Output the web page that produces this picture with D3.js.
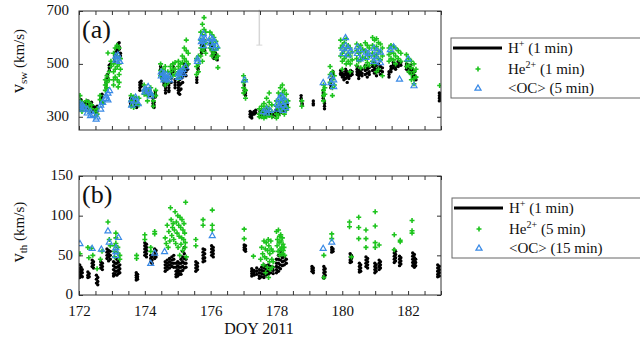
<!DOCTYPE html>
<html><head><meta charset="utf-8">
<script src="https://cdn.jsdelivr.net/npm/d3@7"></script>
<style>
html,body{margin:0;padding:0;background:#fff;}
svg text{font-family:"Liberation Serif","Times New Roman",serif !important;fill:#111;}
</style></head>
<body><svg id="chart" width="640" height="339"></svg>
<script>
// ---------- DATA (each row: [DOY, value, value, ...]) ----------
const xTicks = [172,172.5,173,173.5,174,174.5,175,175.5,176,176.5,177,177.5,178,178.5,179,179.5,180,180.5,181,181.5,182,182.5,183];
const xLabels = [172,174,176,178,180,182];
const yTicksA = [300,500,700];
const yTicksB = [0,50,100,150];

// Panel (a): solar wind speed (km/s)
const hA = [
[172.02,352,345,338,360,330],[172.06,348,340,355,365],[172.10,335,345,325,355],[172.15,340,330,350],
[172.22,345,335,355,325],[172.27,350,340,330,360],[172.32,340,330,345],[172.38,355,345,335,320],[172.43,330,322,340],
[172.50,305,315,325,335],[172.55,320,330,340],
[172.66,370,360,350,380],[172.70,365,375,355,385],
[172.82,420,430,440,410],[172.86,450,460,440],[172.92,475,485,495],[172.96,490,500],
[173.08,520,530,540,510],[173.13,545,555,560,535],[173.18,560,570,575,550],[173.22,580,565,555],[173.26,540,530],
[173.57,360,350,370,345],[173.61,375,365,355],[173.70,350,340,360],[173.75,345,335],[173.85,410,420,430,400],[173.89,425,435,415],
[174.05,395,385,405],[174.15,380,390,400],[174.25,360,350,340,370],[174.28,335,345,355],[174.32,385,375,395],
[174.48,480,470,460,490],[174.52,455,445,465,470],[174.58,440,430,450,420],[174.63,410,420,400,390],[174.68,440,450,430],
[174.73,420,410,400,395],[174.80,460,445,430,470],[174.86,480,490,470],[174.92,420,410,430,440],
[175.02,430,420,410,400,390],[175.06,450,440,420,400,385],[175.10,470,460,445,425,405],[175.15,480,465,450,430],
[175.20,500,490,475,460],[175.25,485,470,455],[175.30,495,480],
[175.58,450,440,430],[175.62,470,480,490],
[175.72,560,550,540,570],[175.77,580,570,560],[175.82,590,575,560,550],
[176.00,580,570,560],[176.05,565,555,545,535],[176.10,550,540,530,520],[176.15,540,530,520],[176.20,525,515],
[177.02,420,410,400,390],[177.06,400,390,380],
[177.20,320,310,300],[177.25,315,305,295],[177.32,320,310],[177.37,325,315],
[177.50,320,310,300],[177.58,315,305,325],[177.65,320,310,300],[177.72,330,320,310],[177.80,315,305],[177.88,310,300],
[177.98,305,315,325],[178.05,320,330,310],[178.12,335,325,315],[178.20,340,330,320],[178.28,335,325],[178.33,345,335],
[178.75,370,360,380],[178.78,350,345],
[179.12,360,350,345],
[179.42,400,390,380,370],[179.46,360,350,340,330],
[179.65,440,430,420,410],[179.72,470,460,450],
[179.95,475,465,460],[180.00,470,460,450],[180.05,460,450,440],[180.10,480,470,460,445],[180.15,470,460,450,430],
[180.20,465,455,445],[180.25,475,465,455],[180.30,470,460],
[180.45,490,480,470,460],[180.50,475,465,455,445],[180.55,485,470,460],[180.60,480,465,455],
[180.70,495,485,475,460],[180.76,490,480,465,450],[180.82,485,470,460],
[180.92,500,490,475],[180.98,505,490,480,465],[181.04,495,480,470,455],[181.10,500,485,470],[181.16,490,475,460],[181.22,485,470],
[181.42,470,460,450],[181.48,490,480,470],[181.55,505,495,485],[181.62,500,490,480],[181.70,510,500,490],[181.78,505,495],
[181.95,500,490,480],[182.02,490,480,470],[182.08,495,485,475,465],[182.14,480,470,460,450],[182.20,470,455,440],[182.24,450,440],
[182.95,390,380,370,360],[182.99,385,375,365]
];
const heA = [
[172.03,380,360,345,330],[172.09,355,340,320],[172.14,345,330],
[172.22,360,340],[172.30,355,335,320],[172.38,345,330],
[172.48,320,300],[172.55,330,310],
[172.64,380,365],[172.72,360,350],
[172.80,420,400,440],[172.85,455,430,410],[172.88,541],[172.92,470,440],[172.97,510,490],
[173.05,540,500,470,440,420],[173.10,560,520,480,450],[173.16,570,530,490,440],[173.19,413],[173.22,560,500,460,430],[173.26,520,480],
[173.58,380,360,340],[173.66,375,355,335],[173.74,370,350],[173.82,370,345],
[173.98,420,400,385],[174.08,400,380,360],[174.18,410,390],[174.26,380,360,340],[174.33,400,380],
[174.48,500,475,455],[174.55,480,460,440],[174.62,490,470,440,420],[174.70,470,450,430],[174.78,490,470,450],[174.85,500,480,455],[174.92,505,480,460],
[175.02,510,490,470,445],[175.08,500,480,455],[175.14,530,505,480],[175.20,560,520,490],[175.26,590,550,510],[175.32,540,500],
[175.57,520,490,460],[175.63,530,500,470],
[175.70,620,590,560,530],[175.75,650,610,580,550,510],[175.80,675,630,590,560],[175.85,620,580,540],
[175.98,620,590,560],[176.04,610,580,550,530],[176.10,600,570,540],[176.16,585,555,520],[176.22,560,530,486],
[177.00,455,430,410,390],[177.06,440,400,370],
[177.48,330,310,300],[177.55,340,320,300],[177.62,350,330,310,295],[177.70,370,340,320,300],[177.78,390,355,330,305],[177.86,345,320,300],
[178.00,360,340,310,295],[178.06,390,360,330,305],[178.12,410,380,350,320],[178.18,420,390,360,330],[178.24,400,370,340,310],[178.30,385,355,325],[178.35,360,335],
[178.77,360,340],
[179.43,420,400,380,360],[179.47,410,385],
[179.63,490,460,430],[179.70,470,440,410,380],[179.76,455,420],
[179.95,590,560,530],[180.00,570,540,510,480],[180.06,580,550,520],[180.12,595,560,530,500],[180.18,570,540,510],[180.24,560,530,500,470],[180.30,545,515],
[180.44,575,550,520,495],[180.50,565,540,510],[180.56,570,545,515,485],[180.62,555,525],
[180.70,580,550,520,490],[180.76,570,540,505],[180.82,560,530,495],
[180.92,600,570,540,510],[180.98,590,560,530,500],[181.04,595,565,535,470],[181.10,580,550,520,480],[181.16,575,545,515],[181.22,560,530,455],
[181.42,560,535,510],[181.48,570,545,520],[181.56,565,540,515],[181.62,560,530,500],[181.70,550,520],[181.78,540,510],
[181.95,535,510,490],[182.02,520,495,470],[182.10,510,485,460,440],[182.18,500,470,445,425],[182.24,480,450],
[182.96,418]
];
const ocA = [
[172.03,350,340],[172.10,345,330],[172.16,335],
[172.25,330,315],[172.35,320,305],[172.43,310],
[172.52,292],[172.55,300],
[172.66,345,330],[172.72,355],
[172.82,380,370],[172.88,390,365],[172.93,400],
[173.12,530,515],[173.18,535,520],[173.24,510],
[173.60,365,345],[173.72,375,360],[173.80,350],
[174.00,405,395],[174.10,415,400],[174.18,390,380],
[174.50,470,455],[174.58,465,450,440],[174.66,460,445],[174.75,455,440],
[175.02,465,450],[175.08,470,455],[175.16,480,465],[175.24,490],
[175.60,520,510],
[175.72,600,585],[175.78,615,590,570],[175.84,595],
[176.00,600,580],[176.06,595,570],[176.12,585,560],[176.18,570],
[177.03,440],
[177.60,320],[177.70,330,315],[177.80,325],
[178.02,350,330],[178.08,370,345],[178.14,380,355],[178.20,375,345,325],[178.28,360,335],
[179.42,430],
[179.66,455,430],[179.74,440,415],
[180.02,560,540],[180.10,600,570],[180.18,560,535],[180.26,550],
[180.46,565,540],[180.54,555,520],
[180.72,545,525],[180.80,540],
[180.96,560,530,510],[181.06,550,520],[181.16,545,505],
[181.46,555],[181.56,565],[181.74,443],
[182.00,520],[182.18,418]
];
const greyBar = [177.48,571,705];

// Panel (b): thermal speed (km/s)
const hB = [
[172.02,38,33,29,25,22],[172.06,35,30,27,24],[172.10,32,28,23],
[172.27,29,25,22],[172.31,27,23],
[172.40,44,40,36],[172.44,42,38,34],
[172.53,25,20,15],[172.57,22,17,13],
[172.66,42,38,34],[172.71,40,36,32],
[172.85,58,54,50,46],[172.90,56,52,48,43],[172.95,55,50,45],
[173.05,42,37,32,27,24],[173.10,40,35,30,26],[173.15,45,40,35,30,25],[173.20,42,36,31,27],[173.24,38,33,28],
[173.74,28,25,22,19],[173.78,26,23,20],
[174.00,66,62,58,54,50],[174.05,64,60,56,52,48],
[174.18,50,46,42],[174.22,48,44,40],
[174.30,58,54,50,46],[174.34,56,52,48],
[174.62,42,38,34,30],[174.68,44,40,36,32],[174.75,46,42,38,34],[174.82,48,44,40,36],[174.88,50,45,40,35],
[174.95,40,35,30,26,23],[175.00,42,37,32,28,24],[175.05,40,35,30,26],[175.10,45,40,35,30,26],[175.15,55,48,42,36,31],[175.20,60,52,46,40,34],[175.25,45,40,35],
[175.55,42,38,34,30],[175.60,40,36,32],
[175.77,58,54,50,46,42],[175.82,57,52,47,43],
[176.03,62,58,54,50],[176.08,60,56,52,48],
[177.02,63,60,57],[177.06,62,58,55],
[177.25,33,30,27,24],[177.32,31,28,25],[177.40,34,30,26],[177.48,32,28,24,21],[177.55,35,31,27,23],[177.62,38,34,30,26,22],
[177.68,37,33,29,25],[177.75,38,34,30,26],[177.82,36,32,28],[177.90,35,31,27],
[178.00,45,40,36,32,28],[178.06,50,45,40,35,30],[178.12,55,50,44,38,33],[178.18,52,47,42,37],[178.24,48,43,38],[178.30,45,40],
[179.08,36,33,30],[179.12,34,31,28],
[179.44,36,32,28,24,21],[179.48,33,29,25],
[179.68,60,57,54],[179.72,58,55],
[180.24,52,48,44,41],[180.28,50,46,42],
[180.52,40,36,32,29],[180.56,38,34,30],
[180.72,48,44,40,36],[180.77,46,42,38,34],
[180.99,40,36,32,28],[181.03,38,34,30],
[181.12,44,40,36,32],[181.16,42,38,34],
[181.58,57,53,49,45,41],[181.62,55,51,47,43],
[181.74,49,45,41,37],[181.78,47,43,39],
[182.14,53,49,45,41,37],[182.19,51,47,43,39,35],[182.23,45,41,37],
[182.90,38,34,30,26,23],[182.95,36,32,28,24]
];
const heB = [
[172.03,52],[172.27,60],[172.30,47],[172.38,59],[172.42,50],[172.55,33],[172.65,45],[172.70,55],
[172.88,92],[172.92,70],[172.95,62],[173.08,62,55,48],[173.12,78,72,65],[173.18,60,53],[173.24,50,45],
[173.75,50,46],[174.00,76,70],[174.18,55,60],[174.30,80,77],
[174.62,72],[174.65,65],[174.68,88],[174.71,60],[174.73,80],[174.76,68],[174.78,110],[174.80,95],[174.82,75],
[174.84,85],[174.86,90],[174.88,70],[174.90,82],[174.92,105],[174.94,65],[174.96,92],[174.98,78],[175.00,100],
[175.01,60],[175.03,88],[175.04,74],[175.06,50],[175.07,98],[175.09,85],[175.10,64],[175.12,72],[175.13,95],
[175.15,56],[175.16,82],[175.18,70],[175.19,90],[175.21,78],[175.22,60],[175.23,66],[175.24,117],[175.26,48],
[175.55,70,62],[175.77,95,88],[176.05,107,88,82],[177.02,83,71],
[177.30,49],[177.52,45],[177.55,60],[177.58,52],[177.60,38],[177.62,68],[177.64,48],[177.66,58],[177.67,28],
[177.69,66],[177.70,46],[177.72,35],[177.73,56],[177.75,70],[177.76,22],[177.77,62],[177.79,42],[177.80,52],
[177.81,32],[177.83,68],[177.84,58],[177.86,45],[177.87,35],[177.89,55],[177.90,42],
[178.00,80],[178.02,62],[178.03,70],[178.05,55],[178.06,82],[178.08,66],[178.09,74],[178.10,50],[178.12,58],
[178.13,76],[178.14,68],[178.16,60],[178.17,52],[178.18,72],[178.20,64],[178.21,56],[178.23,60],[178.25,50],
[179.44,50,22],[179.68,77,71],[180.22,92,86],[180.28,48],[180.50,98,85,71],[180.72,82,71,60],
[181.00,105,87,66,60],[181.12,63],[181.58,76,57],[181.76,69,67],[182.12,94,81,78]
];
const ocB = [
[172.03,65],[172.40,59],[172.68,58],[172.88,81],[172.92,67],[173.12,60,55,50],[173.20,73],
[174.18,40],[174.30,53],[174.60,55],[176.05,75],[179.42,59],[179.68,67]
];

const legendA = ["H|+| (1 min)","He|2+| (1 min)","<OC> (5 min)"];
const legendB = ["H|+| (1 min)","He|2+| (5 min)","<OC> (15 min)"];

// ---------- DRAWING ----------
const FONT = '"Liberation Serif","Times New Roman",serif';
const svg = d3.select("#chart");
const GREEN = "#1dc41d", BLUE = "#3a8ae6";
const x = d3.scaleLinear().domain([172,183]).range([79,441]);

const flat = rows => rows.flatMap(r => r.slice(1).map(v => [r[0], v]));

function panel(cfg){
  const y = d3.scaleLinear().domain(cfg.dom).range([cfg.bottom, cfg.top]);
  const g = svg.append("g");
  const cid = "clip"+cfg.id;
  svg.append("clipPath").attr("id",cid).append("rect")
    .attr("x",79).attr("y",cfg.top).attr("width",362).attr("height",cfg.bottom-cfg.top);
  const pg = g.append("g").attr("clip-path",`url(#${cid})`);

  if(cfg.grey){
    g.append("line").attr("x1",x(cfg.grey[0])).attr("x2",x(cfg.grey[0]))
      .attr("y1",y(cfg.grey[2])).attr("y2",y(cfg.grey[1]))
      .attr("stroke","#d6d6d6").attr("stroke-width",1.5);
    g.append("line").attr("x1",x(cfg.grey[0])-3).attr("x2",x(cfg.grey[0])+3)
      .attr("y1",y(cfg.grey[1])).attr("y2",y(cfg.grey[1]))
      .attr("stroke","#d6d6d6").attr("stroke-width",1);
  }

  pg.selectAll("circle.h").data(flat(cfg.h)).join("circle").attr("class","h")
    .attr("cx",d=>x(d[0])).attr("cy",d=>y(d[1])).attr("r",1.7).attr("fill","#000");
  pg.selectAll("path.he").data(flat(cfg.he)).join("path").attr("class","he")
    .attr("transform",d=>`translate(${x(d[0])},${y(d[1])})`)
    .attr("d","M-2.5,0H2.5M0,-2.5V2.5").attr("stroke",GREEN).attr("stroke-width",1.6).attr("fill","none");
  pg.selectAll("path.oc").data(flat(cfg.oc)).join("path").attr("class","oc")
    .attr("transform",d=>`translate(${x(d[0])},${y(d[1])})`)
    .attr("d","M0,-3L3,2.2H-3Z").attr("stroke",BLUE).attr("stroke-width",1.2).attr("fill","none");

  const fmtX = d => (cfg.xlabels && xLabels.includes(d)) ? d : "";
  const ax = [
    [d3.axisBottom(x).tickValues(xTicks).tickFormat(fmtX), `translate(0,${cfg.bottom})`],
    [d3.axisTop(x).tickValues(xTicks).tickFormat(""), `translate(0,${cfg.top})`],
    [d3.axisLeft(y).tickValues(cfg.yt).tickFormat(d3.format("d")), `translate(79,0)`],
    [d3.axisRight(y).tickValues(cfg.yt).tickFormat(""), `translate(441,0)`]
  ];
  ax.forEach(([a,t],i)=>{
    a.tickSizeInner(-4).tickSizeOuter(0).tickPadding(i===2?cfg.ypad:7.8);
    const ag = g.append("g").attr("transform",t).call(a);
    ag.attr("font-family",null).attr("font-size",null);
    ag.select(".domain").remove();
    ag.selectAll("line").attr("stroke","#333");
    ag.selectAll("text").style("font-family",FONT).style("font-size","15px").attr("fill","#111");
    if(i===0) ag.selectAll("text").attr("dy","0.85em");
    if(i===2) ag.selectAll("text").attr("dy","0.25em");
  });
  g.append("rect").attr("x",79).attr("y",cfg.top).attr("width",362).attr("height",cfg.bottom-cfg.top)
    .attr("fill","none").attr("stroke","#333").attr("stroke-width",1);

  g.append("text").attr("x",82).attr("y",cfg.top+27).style("font-family",FONT).style("font-size","26px").text(cfg.label);

  const yl = g.append("text").attr("transform",`translate(24,${cfg.ylc}) rotate(-90)`)
    .attr("text-anchor","middle").style("font-family",FONT).style("font-size","15px");
  yl.append("tspan").style("font-size","18px").text("v");
  yl.append("tspan").style("font-size","11px").attr("dy",3).text(cfg.sub);
  yl.append("tspan").attr("dy",-3).text(" (km/s)");

  const L = cfg.leg;
  g.append("rect").attr("x",L.x).attr("y",L.y).attr("width",200).attr("height",60)
    .attr("fill","#fff").attr("stroke","#666").attr("stroke-width",1);
  const rows = [L.y+10, L.y+31, L.y+50];
  g.append("line").attr("x1",L.x+2).attr("x2",L.x+51).attr("y1",rows[0]).attr("y2",rows[0])
    .attr("stroke","#000").attr("stroke-width",3);
  g.append("path").attr("transform",`translate(${L.x+27},${rows[1]})`)
    .attr("d","M-2.5,0H2.5M0,-2.5V2.5").attr("stroke",GREEN).attr("stroke-width",1.6);
  g.append("path").attr("transform",`translate(${L.x+27},${rows[2]})`)
    .attr("d","M0,-3L3,2.2H-3Z").attr("stroke",BLUE).attr("stroke-width",1.3).attr("fill","none");
  cfg.legText.forEach((s,i)=>{
    const t = g.append("text").attr("x",L.x+57).attr("y",rows[i]+5)
      .style("font-family",FONT).style("font-size","15px");
    s.split("|").forEach((p,j)=>{
      if(j%2===1) t.append("tspan").style("font-size","10px").attr("dy",-6).text(p);
      else t.append("tspan").attr("dy", j>0?6:0).text(p);
    });
  });
}

panel({id:"a", dom:[250,700], top:11, bottom:130, yt:yTicksA, ypad:10, xlabels:false,
  h:hA, he:heA, oc:ocA, grey:greyBar, label:"(a)", sub:"sw", ylc:61,
  leg:{x:451,y:38}, legText:legendA});
panel({id:"b", dom:[0,150], top:176, bottom:295, yt:yTicksB, ypad:6, xlabels:true,
  h:hB, he:heB, oc:ocB, grey:null, label:"(b)", sub:"th", ylc:232,
  leg:{x:452,y:198}, legText:legendB});

svg.append("text").attr("x",259).attr("y",333.5).attr("text-anchor","middle")
  .style("font-family",FONT).style("font-size","16px").text("DOY 2011");
</script></body></html>
